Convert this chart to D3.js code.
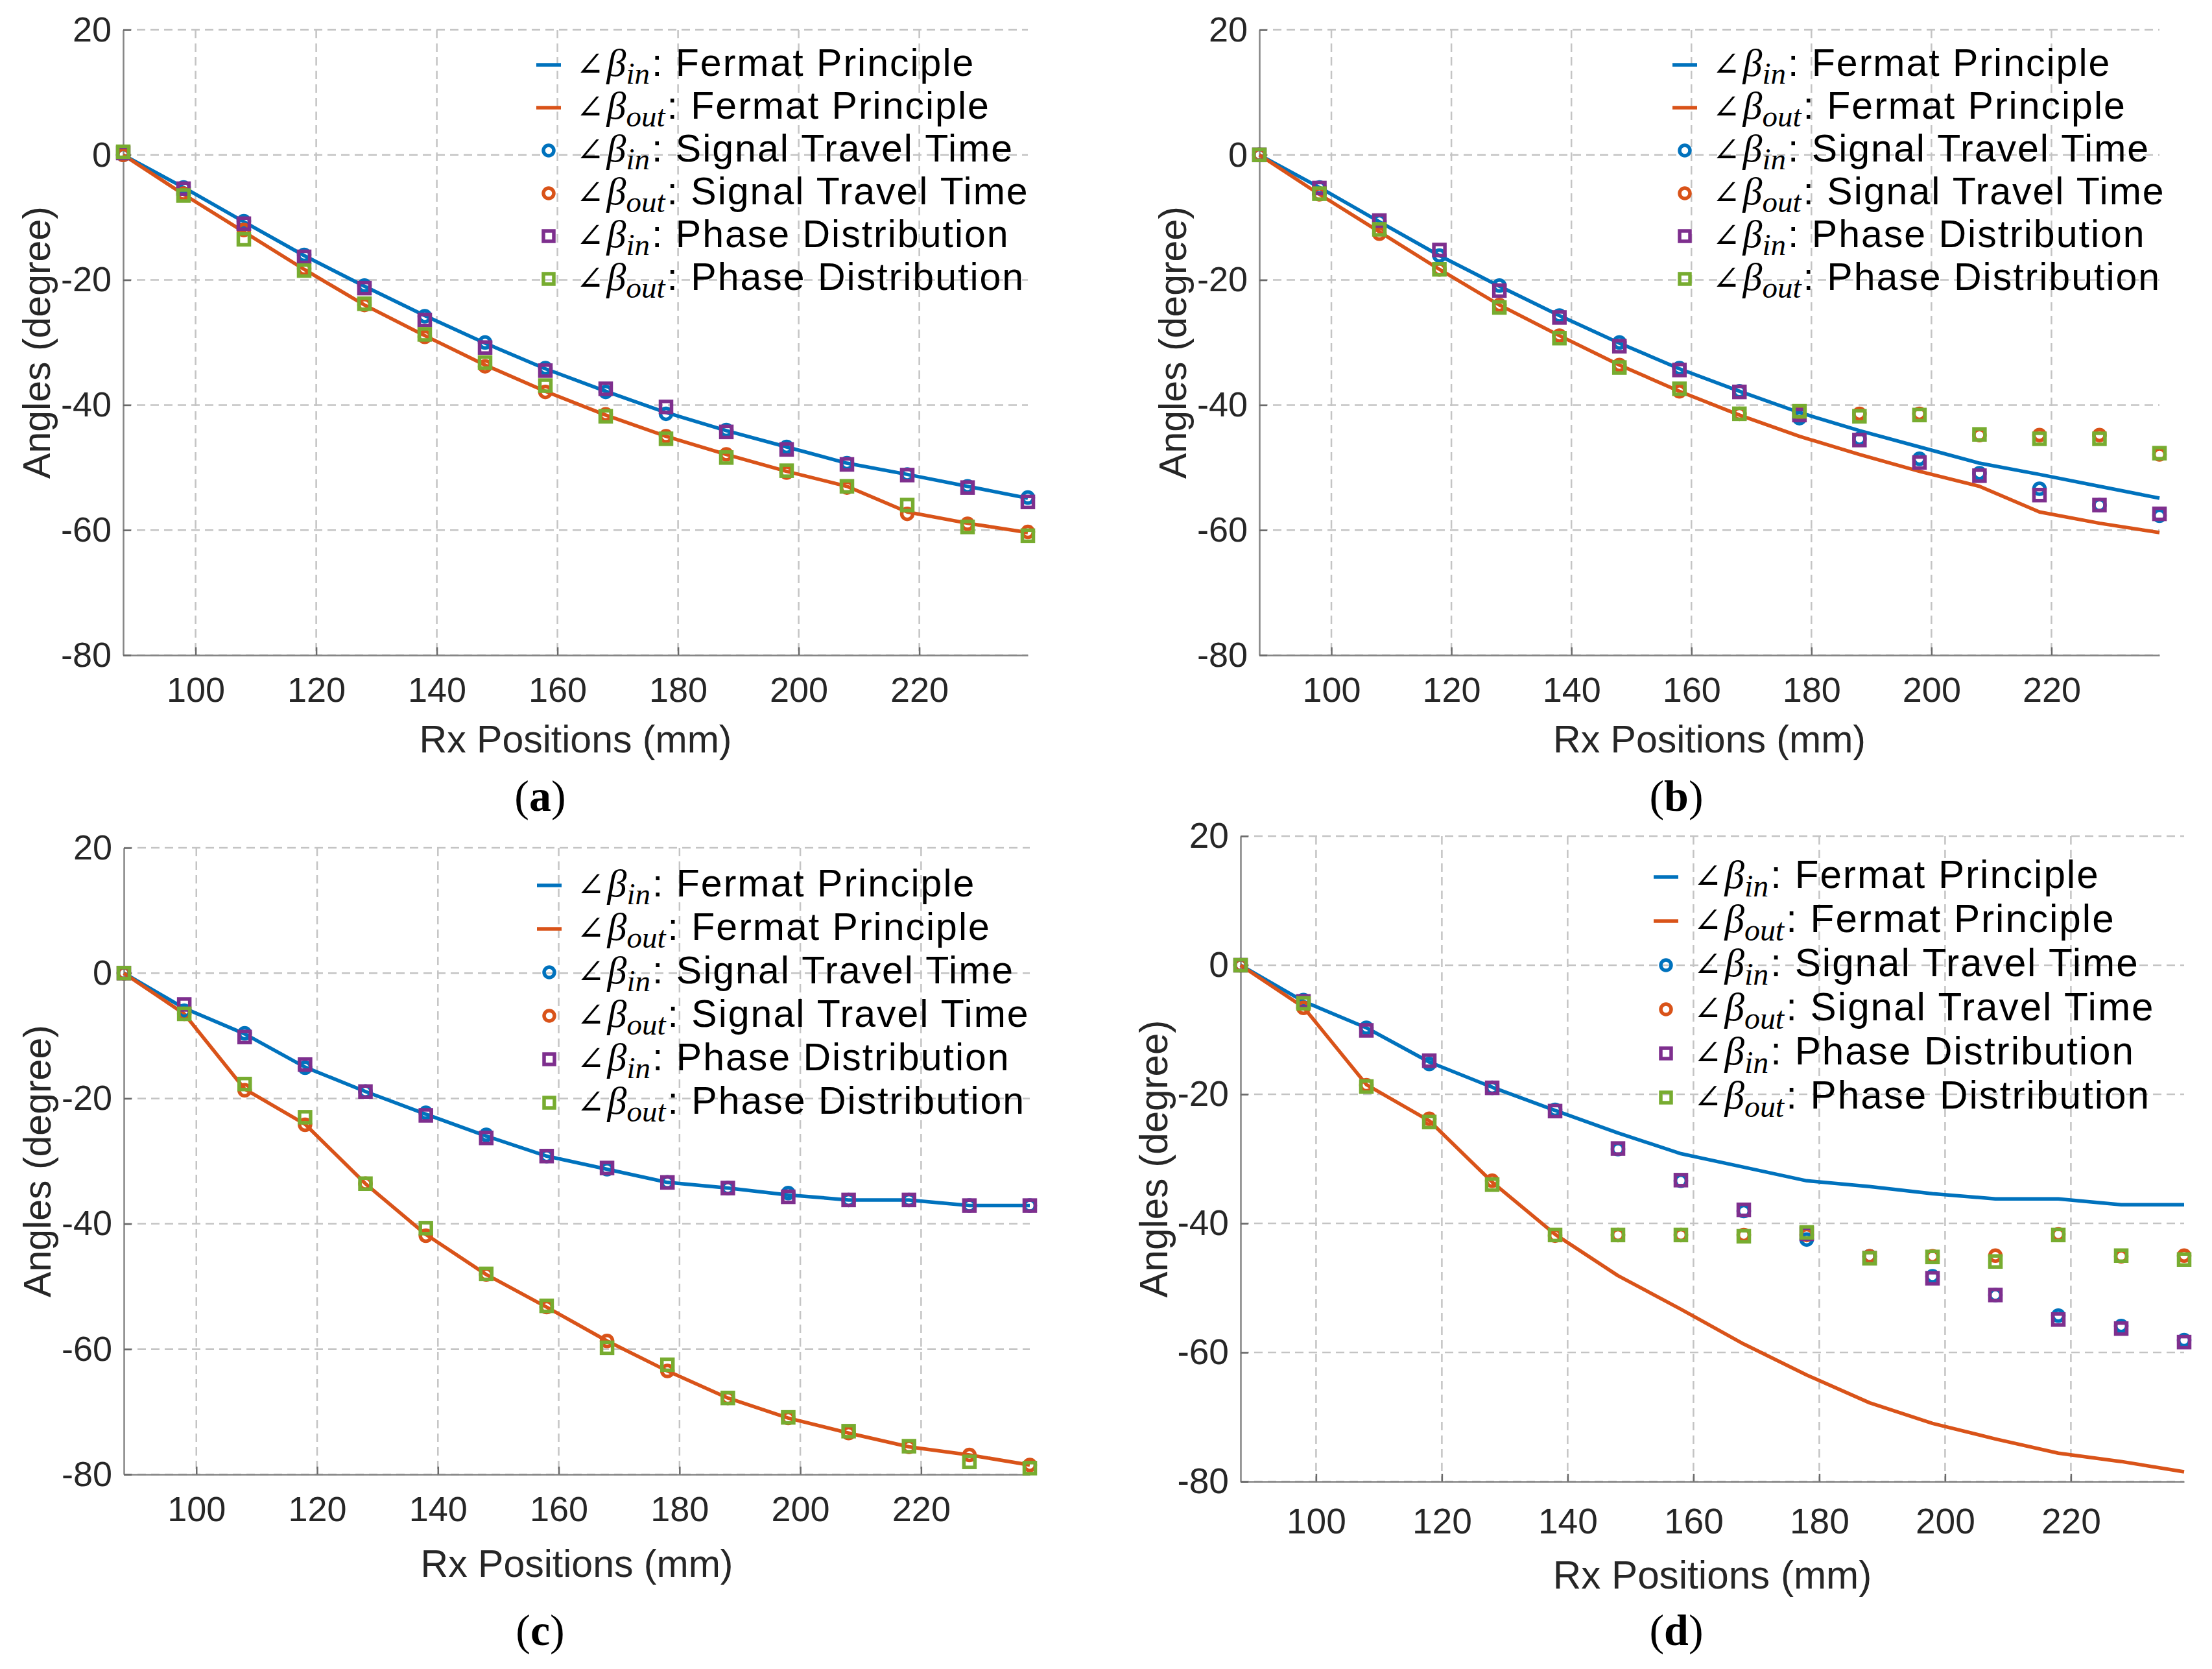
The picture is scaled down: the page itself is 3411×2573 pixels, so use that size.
<!DOCTYPE html>
<html>
<head>
<meta charset="utf-8">
<script src="https://cdn.jsdelivr.net/npm/d3@7"></script>
<style>
  body { margin: 0; background: #fff; }
  svg { display: block; }
  .grid { stroke: #c4c4c4; stroke-width: 2.5; stroke-dasharray: 13 8; }
</style>
</head>
<body>
<script>
// Rx positions (mm) and axis ticks
var xs = [88, 98, 108, 118, 128, 138, 148, 158, 168, 178, 188, 198, 208, 218, 228, 238]
var xTicks = [100, 120, 140, 160, 180, 200, 220]
var yTicks = [20, 0, -20, -40, -60, -80]

// Fermat principle curves, panels (a) and (b)
var fermatInAB  = [0, -5.2, -10.7, -16.1, -21.0, -25.7, -30.1, -34.2, -37.8, -41.2, -44.1, -46.7, -49.3, -51.1, -53.0, -54.9]
var fermatOutAB = [0, -6.3, -12.3, -18.3, -24.0, -28.9, -33.6, -37.8, -41.6, -45.0, -47.9, -50.6, -53.0, -57.1, -58.9, -60.4]
// Fermat principle curves, panels (c) and (d)
var fermatInCD  = [0, -5.6, -9.7, -15.0, -18.9, -22.5, -26.0, -29.2, -31.3, -33.4, -34.3, -35.4, -36.2, -36.2, -37.1, -37.1]
var fermatOutCD = [0, -6.5, -18.5, -24.1, -33.6, -41.7, -48.1, -53.3, -58.7, -63.5, -67.8, -71.0, -73.4, -75.6, -76.9, -78.5]

// panel (a)
var sttInA  = [0, -5.2, -10.6, -16.0, -20.9, -25.8, -30.0, -34.1, -37.9, -41.4, -44.0, -46.7, -49.3, -51.1, -53.0, -54.8]
var sttOutA = [0, -6.2, -12.0, -18.2, -24.0, -29.1, -33.8, -37.9, -41.5, -45.0, -47.9, -50.8, -53.2, -57.4, -59.0, -60.3]
var pdInA   = [0.3, -5.4, -11.0, -16.3, -21.3, -26.4, -30.8, -34.5, -37.4, -40.3, -44.3, -47.1, -49.5, -51.2, -53.2, -55.5]
var pdOutA  = [0.5, -6.5, -13.5, -18.5, -23.8, -28.7, -33.2, -36.9, -41.8, -45.4, -48.4, -50.5, -53.0, -56.0, -59.5, -60.9]
// panel (b)
var sttInB  = [0, -5.2, -10.6, -16.1, -20.9, -25.7, -30.0, -34.1, -37.8, -42.1, -45.4, -48.6, -50.9, -53.4, -56.0, -57.7]
var sttOutB = [0, -6.3, -12.6, -18.3, -24.0, -28.9, -33.6, -37.8, -41.4, -41.2, -41.4, -41.4, -44.8, -44.8, -44.8, -47.9]
var pdInB   = [0, -5.3, -10.5, -15.2, -21.7, -26.0, -30.6, -34.4, -37.9, -41.6, -45.6, -49.2, -51.3, -54.4, -56.0, -57.4]
var pdOutB  = [0, -6.2, -11.9, -18.3, -24.4, -29.3, -34.0, -37.4, -41.4, -41.0, -41.8, -41.6, -44.7, -45.4, -45.4, -47.7]
// panel (c)
var sttInC  = [0, -6.0, -9.6, -15.1, -18.9, -22.3, -25.8, -29.2, -31.3, -33.4, -34.3, -35.1, -36.2, -36.2, -37.1, -37.1]
var sttOutC = [0, -6.5, -18.7, -24.2, -33.6, -41.9, -48.1, -53.3, -58.7, -63.5, -67.8, -71.0, -73.4, -75.6, -76.9, -78.5]
var pdInC   = [0, -5.0, -10.2, -14.6, -18.9, -22.7, -26.3, -29.2, -31.1, -33.4, -34.3, -35.7, -36.2, -36.2, -37.1, -37.1]
var pdOutC  = [0, -6.5, -17.7, -23.0, -33.6, -40.7, -48.0, -53.1, -59.8, -62.5, -67.8, -70.9, -73.1, -75.5, -78.0, -79.0]
// panel (d)
var sttInD  = [0, -5.4, -9.7, -15.3, -19.0, -22.4, -28.5, -33.4, -38.1, -42.5, -45.1, -48.2, -51.1, -54.3, -55.9, -58.1]
var sttOutD = [0, -6.6, -18.6, -23.8, -33.4, -41.9, -41.8, -41.8, -41.8, -41.8, -45.1, -45.1, -45.0, -41.7, -45.1, -45.0]
var pdInD   = [0, -5.6, -10.1, -14.8, -19.0, -22.6, -28.4, -33.3, -37.9, -41.6, -45.4, -48.5, -51.1, -54.9, -56.3, -58.4]
var pdOutD  = [0, -5.9, -18.8, -24.3, -34.0, -41.8, -41.8, -41.8, -42.0, -41.4, -45.4, -45.2, -45.9, -41.8, -45.0, -45.6]

// legend
var legendSubs  = ['in', 'out', 'in', 'out', 'in', 'out']
var legendDescs = ['Fermat Principle', 'Fermat Principle', 'Signal Travel Time', 'Signal Travel Time',
  'Phase Distribution', 'Phase Distribution']
var legendKinds = ['line', 'line', 'circle', 'circle', 'square', 'square']
var seriesColors = ['#0072BD', '#D95319', '#0072BD', '#D95319', '#7E2F8E', '#77AC30']

var sans = '"Liberation Sans", Arial, Helvetica, sans-serif'
var serif = '"Liberation Serif", "Times New Roman", serif'

var svg = d3.select('body').append('svg')
  .attr('width', 3411).attr('height', 2573)
svg.append('rect').attr('width', 3411).attr('height', 2573).attr('fill', '#fff')

// layout of each sub-plot (pixel boxes)
var panels = [
  { id: 'a', left: 190, right: 1585, top: 46, bottom: 1010, legDy: 54, legStep: 66, tickPad: 34, xTitleDy: 150, fs: 1,
    cap: [833, 1250], series: [fermatInAB, fermatOutAB, sttInA, sttOutA, pdInA, pdOutA] },
  { id: 'b', left: 1942, right: 3330, top: 46, bottom: 1010, legDy: 54, legStep: 66, tickPad: 34, xTitleDy: 150, fs: 1,
    cap: [2585, 1250], series: [fermatInAB, fermatOutAB, sttInB, sttOutB, pdInB, pdOutB] },
  { id: 'c', left: 191, right: 1588, top: 1307, bottom: 2273, legDy: 58, legStep: 67, tickPad: 34, xTitleDy: 158, fs: 1,
    cap: [833, 2536], series: [fermatInCD, fermatOutCD, sttInC, sttOutC, pdInC, pdOutC] },
  { id: 'd', left: 1913, right: 3368, top: 1289, bottom: 2284, legDy: 63, legStep: 68, tickPad: 41, xTitleDy: 165, fs: 1.02,
    cap: [2585, 2536], series: [fermatInCD, fermatOutCD, sttInD, sttOutD, pdInD, pdOutD] }
]

function styleAxis(g, fs){
  g.attr('font-family', sans).attr('font-size', 54 * fs)
  g.selectAll('.domain').attr('stroke', '#858585').attr('stroke-width', 2.5)
  g.selectAll('.tick line').attr('stroke', '#6a6a6a').attr('stroke-width', 2.5)
  g.selectAll('.tick text').attr('fill', '#262626')
}

// legend label: angle sign, italic beta, italic subscript, then the description
function legendLabel(g, x0, base, sub, desc, fs){
  var xc = x0
  function piece(str, family, size, italic, dy, spacing){
    var t = g.append('text').attr('x', xc).attr('y', base + dy)
      .attr('font-family', family).attr('font-size', size).attr('fill', '#000')
      .attr('font-style', italic ? 'italic' : 'normal')
      .attr('letter-spacing', spacing || 0).text(str)
    xc += t.node().getComputedTextLength()
    return t
  }
  piece('\u2220', '"DejaVu Serif", serif', 52 * fs, false, 0)
  xc += 4
  piece('\u03B2', serif, 60 * fs, true, 0)
  piece(sub, serif, 47 * fs, true, 12 * fs)
  xc += 3
  piece(': ' + desc, sans, 59 * fs, false, 0, 2)
}

function drawPanel(p){
  var x = d3.scaleLinear().domain([88, 238]).range([p.left, p.right])
  var y = d3.scaleLinear().domain([-80, 20]).range([p.bottom, p.top])
  var g = svg.append('g').attr('class', 'panel-' + p.id)

  // dashed grid
  g.append('g').selectAll('line').data(xTicks).enter().append('line')
    .attr('class', 'grid')
    .attr('x1', function(d){ return x(d) }).attr('x2', function(d){ return x(d) })
    .attr('y1', p.top).attr('y2', p.bottom)
  g.append('g').selectAll('line').data(yTicks).enter().append('line')
    .attr('class', 'grid')
    .attr('x1', p.left).attr('x2', p.right)
    .attr('y1', function(d){ return y(d) }).attr('y2', function(d){ return y(d) })

  // axes, ticks pointing inward
  var xa = g.append('g').attr('transform', 'translate(0,' + p.bottom + ')')
    .call(d3.axisBottom(x).tickValues(xTicks).tickSizeInner(-12).tickSizeOuter(0)
      .tickPadding(p.tickPad).tickFormat(function(d){ return String(d) }))
  styleAxis(xa, p.fs)
  var ya = g.append('g').attr('transform', 'translate(' + p.left + ',0)')
    .call(d3.axisLeft(y).tickValues(yTicks).tickSizeInner(-12).tickSizeOuter(0)
      .tickPadding(18).tickFormat(function(d){ return String(d) }))
  styleAxis(ya, p.fs)

  // axis titles
  g.append('text').text('Rx Positions (mm)')
    .attr('x', (p.left + p.right) / 2).attr('y', p.bottom + p.xTitleDy)
    .attr('text-anchor', 'middle').attr('font-family', sans).attr('font-size', 59 * p.fs).attr('fill', '#262626')
  g.append('text').text('Angles (degree)')
    .attr('transform', 'translate(' + (p.left - 113) + ',' + ((p.top + p.bottom) / 2) + ') rotate(-90)')
    .attr('text-anchor', 'middle').attr('font-family', sans).attr('font-size', 59 * p.fs).attr('fill', '#262626')

  // Fermat lines
  var line = d3.line().x(function(d, i){ return x(xs[i]) }).y(function(d){ return y(d) })
  p.series.forEach(function(s, k){
    if (legendKinds[k] !== 'line') return
    g.append('path').datum(s).attr('d', line)
      .attr('fill', 'none').attr('stroke', seriesColors[k]).attr('stroke-width', 5.5)
      .attr('stroke-linejoin', 'round')
  })
  // markers
  p.series.forEach(function(s, k){
    var kind = legendKinds[k]
    if (kind === 'line') return
    var m = g.append('g').attr('fill', 'none').attr('stroke', seriesColors[k]).attr('stroke-width', 5.5)
    if (kind === 'circle'){
      m.selectAll('circle').data(s).enter().append('circle')
        .attr('cx', function(d, i){ return x(xs[i]) }).attr('cy', function(d){ return y(d) }).attr('r', 8.5)
    } else {
      m.selectAll('rect').data(s).enter().append('rect')
        .attr('x', function(d, i){ return x(xs[i]) - 8.5 }).attr('y', function(d){ return y(d) - 8.5 })
        .attr('width', 17).attr('height', 17)
    }
  })

  // legend
  var lx = p.left + 656
  legendSubs.forEach(function(sub, k){
    var cy = p.top + p.legDy + k * p.legStep
    var kind = legendKinds[k]
    if (kind === 'line'){
      g.append('line').attr('x1', lx - 19).attr('x2', lx + 19).attr('y1', cy).attr('y2', cy)
        .attr('stroke', seriesColors[k]).attr('stroke-width', 5.5)
    } else if (kind === 'circle'){
      g.append('circle').attr('cx', lx).attr('cy', cy).attr('r', 8)
        .attr('fill', 'none').attr('stroke', seriesColors[k]).attr('stroke-width', 5.5)
    } else {
      g.append('rect').attr('x', lx - 8).attr('y', cy - 8).attr('width', 16).attr('height', 16)
        .attr('fill', 'none').attr('stroke', seriesColors[k]).attr('stroke-width', 5.5)
    }
    legendLabel(g, lx + 42, cy + 17 * p.fs, sub, legendDescs[k], p.fs)
  })

  // caption
  var c = svg.append('text').attr('x', p.cap[0]).attr('y', p.cap[1])
    .attr('text-anchor', 'middle').attr('font-family', serif).attr('font-size', 68).attr('fill', '#000')
  c.append('tspan').text('(')
  c.append('tspan').attr('font-weight', 'bold').text(p.id)
  c.append('tspan').text(')')
}

panels.forEach(drawPanel)
</script>
</body>
</html>
